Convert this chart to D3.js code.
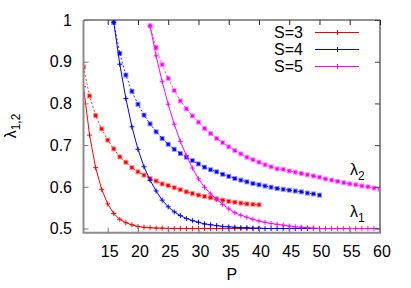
<!DOCTYPE html>
<html lang="en">
<head>
<meta charset="UTF-8">
<title>lambda vs P</title>
<script src="https://d3js.org/d3.v7.min.js"></script>
<style>
  body { margin: 0; background: #fff; }
  text { font-family: "Liberation Sans", Arial, sans-serif; font-size: 16px; fill: #000; }
</style>
</head>
<body>
<div id="chart"></div>
<script>
// values, one point per integer P
const pS3 = d3.range(11, 41);
const pS4 = d3.range(16, 51);
const pS5 = d3.range(22, 61);

const l1S3 = [0.840, 0.724, 0.646, 0.594, 0.559, 0.536, 0.522, 0.514, 0.509, 0.505,
              0.503, 0.502, 0.501, 0.501, 0.500, 0.500, 0.500, 0.500, 0.500, 0.500,
              0.500, 0.500, 0.500, 0.500, 0.500, 0.500, 0.500, 0.500, 0.500, 0.500];
const l2S3 = [0.887, 0.818, 0.771, 0.739, 0.712, 0.691, 0.672, 0.659, 0.646, 0.636,
              0.628, 0.620, 0.614, 0.607, 0.603, 0.598, 0.593, 0.588, 0.584, 0.580,
              0.577, 0.574, 0.571, 0.568, 0.565, 0.563, 0.561, 0.559, 0.558, 0.557];

const l1S4 = [0.994, 0.894, 0.812, 0.744, 0.690, 0.648, 0.616, 0.590, 0.568, 0.552,
              0.540, 0.531, 0.524, 0.519, 0.515, 0.511, 0.509, 0.507, 0.505, 0.504,
              0.503, 0.502, 0.502, 0.501, 0.501, 0.500, 0.500, 0.500, 0.500, 0.500,
              0.500, 0.500, 0.500, 0.500, 0.500];
const l2S4 = [0.994, 0.920, 0.868, 0.829, 0.798, 0.772, 0.751, 0.732, 0.716, 0.702,
              0.690, 0.680, 0.671, 0.663, 0.655, 0.647, 0.641, 0.636, 0.630, 0.625,
              0.620, 0.616, 0.612, 0.608, 0.605, 0.602, 0.599, 0.596, 0.594, 0.592,
              0.590, 0.588, 0.585, 0.583, 0.580];

const l1S5 = [0.986, 0.914, 0.852, 0.798, 0.750, 0.709, 0.675, 0.645, 0.619, 0.599,
              0.583, 0.570, 0.558, 0.547, 0.538, 0.532, 0.527, 0.522, 0.518, 0.515,
              0.512, 0.510, 0.508, 0.506, 0.504, 0.503, 0.502, 0.501, 0.500, 0.500,
              0.500, 0.500, 0.500, 0.500, 0.500, 0.500, 0.500, 0.500, 0.500];
const l2S5 = [0.986, 0.934, 0.893, 0.860, 0.831, 0.806, 0.787, 0.770, 0.755, 0.740,
              0.728, 0.716, 0.706, 0.696, 0.687, 0.679, 0.671, 0.665, 0.659, 0.653,
              0.648, 0.643, 0.642, 0.638, 0.635, 0.632, 0.629, 0.626, 0.623, 0.619,
              0.616, 0.613, 0.610, 0.607, 0.605, 0.602, 0.600, 0.597, 0.594];

const seriesNames = ["S=3", "S=4", "S=5"];
const colors = ["#ff0000", "#0000ff", "#ff00ff"];
const xTicks = [15, 20, 25, 30, 35, 40, 45, 50, 55, 60];
const yTicks = [0.5, 0.6, 0.7, 0.8, 0.9, 1];

const series = [
  { p: pS3, l1: l1S3, l2: l2S3 },
  { p: pS4, l1: l1S4, l2: l2S4 },
  { p: pS5, l1: l1S5, l2: l2S5 }
];

const W = 411, H = 288;
const mLeft = 83.5, mRight = 380, mTop = 20, mBottom = 232.7;

const svg = d3.select("#chart").append("svg")
  .attr("width", W).attr("height", H);

const x = d3.scaleLinear().domain([11, 60]).range([mLeft, mRight]);
const y = d3.scaleLinear().domain([0.49, 1]).range([mBottom, mTop]);

// clip to the plot area
svg.append("clipPath").attr("id", "clip")
  .append("rect").attr("x", mLeft).attr("y", mTop - 4)
  .attr("width", mRight - mLeft).attr("height", mBottom - mTop + 4);

const plot = svg.append("g").attr("clip-path", "url(#clip)");
const line = d3.line().x(d => x(d[0])).y(d => y(d[1]));

series.forEach((s, i) => {
  const c = colors[i];
  const d1 = s.p.map((p, k) => [p, s.l1[k]]);
  const d2 = s.p.map((p, k) => [p, s.l2[k]]);

  // lambda_2 : dotted line, square points
  plot.append("path").datum(d2).attr("d", line)
    .attr("fill", "none").attr("stroke", c).attr("stroke-width", 1)
    .attr("stroke-dasharray", "2,2").attr("stroke-opacity", 0.8);
  plot.selectAll(null).data(d2).enter().append("rect")
    .attr("x", d => x(d[0]) - 2.5).attr("y", d => y(d[1]) - 2.5)
    .attr("width", 5).attr("height", 5)
    .attr("fill", c).attr("fill-opacity", 0.45);
  plot.selectAll(null).data(d2).enter().append("rect")
    .attr("x", d => x(d[0]) - 1.5).attr("y", d => y(d[1]) - 1.5)
    .attr("width", 3).attr("height", 3)
    .attr("fill", c);

  // lambda_1 : solid line, plus points
  plot.append("path").datum(d1).attr("d", line)
    .attr("fill", "none").attr("stroke", c).attr("stroke-width", 1);
  plot.selectAll(null).data(d1).enter().append("path")
    .attr("d", d => `M${x(d[0]) - 2.5},${y(d[1])}h5M${x(d[0])},${y(d[1]) - 2.5}v5`)
    .attr("stroke", c).attr("stroke-width", 1);
});

// border
svg.append("line").attr("x1", mLeft).attr("x2", mRight).attr("y1", mTop).attr("y2", mTop)
  .attr("stroke", "#222").attr("stroke-width", 1);
svg.append("path")
  .attr("d", `M${mLeft},${mTop}V${mBottom}H${mRight}V${mTop}`)
  .attr("fill", "none").attr("stroke", "#8c8c8c").attr("stroke-width", 2);

// ticks (inward, mirrored)
const axB = d3.axisBottom(x).tickValues(xTicks).tickSize(-5).tickFormat("");
const axT = d3.axisTop(x).tickValues(xTicks).tickSize(-5).tickFormat("");
const axL = d3.axisLeft(y).tickValues(yTicks).tickSize(-5).tickFormat("");
const axR = d3.axisRight(y).tickValues(yTicks).tickSize(-5).tickFormat("");
[[axB, `translate(0,${mBottom})`, "#777"], [axT, `translate(0,${mTop})`, "#222"],
 [axL, `translate(${mLeft},0)`, "#777"], [axR, `translate(${mRight},0)`, "#444"]]
  .forEach(([ax, tr, col]) => {
    const g = svg.append("g").attr("transform", tr).call(ax);
    g.select(".domain").remove();
    g.selectAll("line").attr("stroke", col);
  });

// tick labels
svg.selectAll(null).data(xTicks).enter().append("text")
  .attr("x", d => x(d) + 2).attr("y", mBottom + 24)
  .attr("text-anchor", "middle").text(d => d);
svg.selectAll(null).data(yTicks).enter().append("text")
  .attr("x", 72).attr("y", d => y(d)).attr("dy", "0.36em")
  .attr("text-anchor", "end").text(d => d);

// axis titles
svg.append("text").attr("x", (mLeft + mRight) / 2).attr("y", 280)
  .attr("text-anchor", "middle").text("P");
const yl = svg.append("text").attr("transform", "translate(16,126) rotate(-90)")
  .attr("text-anchor", "middle");
yl.append("tspan").text("λ");
yl.append("tspan").attr("font-size", "12px").attr("dy", 4).text("1,2");

const lab2 = svg.append("text").attr("x", 350).attr("y", 175);
lab2.append("tspan").text("λ");
lab2.append("tspan").attr("font-size", "12px").attr("dy", 5).text("2");
const lab1 = svg.append("text").attr("x", 350).attr("y", 216.5);
lab1.append("tspan").text("λ");
lab1.append("tspan").attr("font-size", "12px").attr("dy", 5).text("1");

// legend
const leg = svg.selectAll(null).data(seriesNames).enter().append("g")
  .attr("transform", (d, i) => `translate(0,${32.5 + i * 17})`);
leg.append("text").attr("x", 303).attr("dy", "0.36em")
  .attr("text-anchor", "end").text(d => d);
leg.append("line").attr("x1", 315).attr("x2", 359)
  .attr("stroke", (d, i) => colors[i]).attr("stroke-width", 1);
leg.append("path").attr("d", "M335,0h5M337.5,-2.5v5")
  .attr("stroke", (d, i) => colors[i]).attr("stroke-width", 1);
</script>
</body>
</html>
